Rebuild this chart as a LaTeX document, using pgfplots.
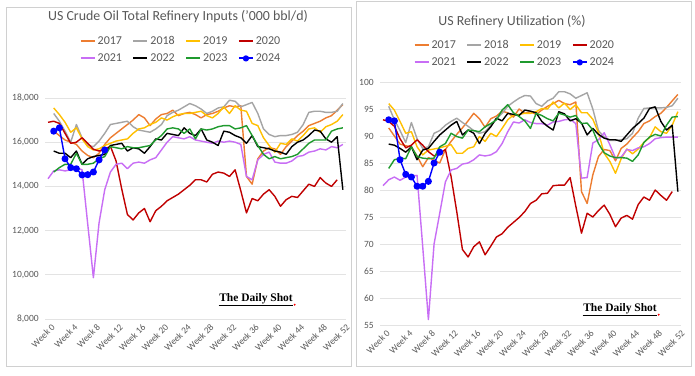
\documentclass[border=0pt]{standalone}
\usepackage{fontspec}
\setmainfont{Carlito}
\newfontfamily\dsfont{Liberation Serif}
\usepackage{pgfplots}
\usepackage{pgfplotstable}
\pgfplotsset{compat=1.18}
\definecolor{cA}{HTML}{ED7D31}
\definecolor{cB}{HTML}{A5A5A5}
\definecolor{cC}{HTML}{FFC000}
\definecolor{cD}{HTML}{C00000}
\definecolor{cE}{HTML}{C86EF5}
\definecolor{cF}{HTML}{000000}
\definecolor{cG}{HTML}{1F9A2E}
\definecolor{cH}{HTML}{0000FF}
\definecolor{txtgray}{HTML}{595959}
\definecolor{gridgray}{HTML}{E3E3E3}
\definecolor{framegray}{HTML}{D0D0D0}

\pgfplotstableread{
w a17 a18 a19 a20 a21 a22 a23 a24
0 nan nan nan 16900 14350 nan nan nan
1 16500 17300 17550 16950 14700 15600 14650 16500
2 16300 16950 17250 16850 14750 15500 14850 16650
3 16100 16500 16900 16400 14700 15500 15000 15250
4 16000 16000 16450 15950 14750 15300 15000 14850
5 15900 16800 16650 16000 14850 15600 15500 14800
6 15600 16200 16150 16200 14750 15000 15000 14520
7 15400 15850 15800 15950 12300 15250 15000 14530
8 15300 15800 15650 15680 9870 15350 15050 14650
9 15500 16050 15700 15600 12350 15400 15250 15200
10 15900 16400 15850 15680 13850 15450 15350 15650
11 16200 16800 15950 15820 14650 15850 15800 nan
12 16400 16850 16050 15150 15000 15900 15750 nan
13 16600 16900 16100 13880 15050 15950 15700 nan
14 16800 16950 16150 12730 14800 15600 15800 nan
15 17000 16700 16400 12480 15050 15750 15750 nan
16 17250 16550 16600 12800 15100 15700 15750 nan
17 17100 16500 16650 13000 15050 15500 15800 nan
18 16750 16450 16800 12400 15200 15800 15850 nan
19 17050 16600 16900 12900 15300 16150 16100 nan
20 17250 16800 17100 13100 15650 16100 16300 nan
21 17300 17200 17000 13350 16000 16400 16600 nan
22 17450 17350 17150 13500 16250 16350 16650 nan
23 17200 17450 17250 13650 16200 16300 16600 nan
24 17300 17600 17300 13850 16150 16650 16400 nan
25 17350 17750 17300 14050 16250 16400 16600 nan
26 17250 17650 17350 14300 16100 16300 16150 nan
27 17100 17500 17400 14300 16050 16600 16600 nan
28 17250 17300 17200 14200 16000 16100 16550 nan
29 17300 17400 17100 14550 15950 16000 16600 nan
30 17400 17550 17300 14650 16050 15850 16700 nan
31 17550 17600 17600 14600 16000 16500 16750 nan
32 17650 17900 17300 14450 16050 16450 16750 nan
33 17600 17850 17650 14750 16000 16300 16600 nan
34 17650 17600 17450 13800 15900 16200 16650 nan
35 14450 17700 17400 12800 14450 15950 16750 nan
36 14100 17800 16850 13450 14300 16300 16300 nan
37 15250 17300 16750 13350 15200 15800 15850 nan
38 15600 16600 16200 13650 15450 15750 15450 nan
39 15750 16350 15850 13850 15550 15700 15250 nan
40 15700 16250 15550 13550 15100 15600 15350 nan
41 15450 16300 15950 13100 15050 15550 15250 nan
42 15800 16300 15900 13400 15050 15450 15300 nan
43 16050 16350 16150 13550 15150 15800 15350 nan
44 16300 16450 16050 13500 15350 16000 15450 nan
45 16500 16800 16300 13800 15400 16100 15700 nan
46 16750 17350 16600 14100 15550 16300 15950 nan
47 16850 17400 16650 14000 15600 16550 16100 nan
48 16950 17400 16450 14400 15700 16500 16100 nan
49 17100 17350 16700 14150 15650 16150 16100 nan
50 17200 17350 16800 14000 15800 16000 16500 nan
51 17450 17400 16950 14300 15750 16250 16600 nan
52 17700 17750 17250 nan 15900 13850 16650 nan
}\inputs

\pgfplotstableread{
w u17 u18 u19 u20 u21 u22 u23 u24
0 nan nan nan 93.0 80.8 nan nan nan
1 91.5 95.5 96.0 92.7 81.9 88.5 84.0 93.0
2 90.0 93.0 94.8 91.8 82.4 88.3 85.6 92.8
3 88.5 91.0 92.7 89.5 81.8 87.7 85.9 85.6
4 88.2 88.8 90.5 87.8 82.4 87.0 85.8 82.9
5 88.0 92.5 90.8 88.3 82.6 88.0 88.0 82.4
6 86.3 89.5 88.0 89.3 82.7 85.6 86.2 80.7
7 84.3 87.7 86.5 88.3 69.5 87.4 85.9 80.7
8 86.0 88.0 87.4 87.1 56.0 87.7 85.8 81.6
9 85.5 90.5 87.6 86.3 70.0 89.0 85.9 85.0
10 85.0 91.0 87.8 86.8 75.7 90.2 88.0 87.0
11 87.5 92.0 88.1 87.5 81.5 91.1 88.6 nan
12 89.0 92.7 88.4 82.5 83.7 92.0 90.5 nan
13 90.3 93.3 86.8 76.0 84.0 92.7 89.9 nan
14 91.5 92.5 86.8 69.0 84.8 90.2 89.6 nan
15 92.8 91.8 87.7 67.6 85.0 91.1 91.1 nan
16 94.2 91.0 88.0 69.5 85.6 90.5 91.0 nan
17 93.2 90.5 89.9 70.4 86.5 88.6 90.8 nan
18 91.6 90.8 89.0 68.0 86.3 90.5 91.7 nan
19 93.2 92.0 90.5 69.6 86.5 91.7 92.3 nan
20 93.7 93.2 89.9 71.3 87.1 93.3 93.0 nan
21 94.6 94.2 91.4 71.9 88.6 92.8 94.8 nan
22 94.3 95.5 93.0 73.1 90.8 94.2 95.8 nan
23 93.5 96.3 93.9 74.0 92.6 94.0 94.3 nan
24 95.0 97.0 94.0 74.9 92.4 93.8 93.6 nan
25 94.2 97.5 94.2 76.0 93.0 94.8 92.8 nan
26 94.5 97.4 94.2 77.5 92.5 94.6 91.4 nan
27 94.0 96.0 94.5 78.1 92.3 94.3 94.2 nan
28 94.8 95.5 95.1 79.3 92.3 92.7 93.8 nan
29 95.5 96.5 95.0 79.4 92.0 91.8 93.2 nan
30 96.0 97.0 96.3 80.8 92.6 91.1 92.8 nan
31 96.6 98.2 95.2 80.9 92.7 94.5 94.2 nan
32 96.0 98.2 96.1 80.9 93.0 94.1 93.9 nan
33 95.8 97.8 94.9 82.3 93.1 92.8 93.5 nan
34 96.3 97.0 95.8 77.0 92.3 93.2 93.8 nan
35 79.7 97.5 94.3 72.0 82.2 92.4 92.3 nan
36 77.5 98.0 94.3 75.7 82.3 90.2 92.4 nan
37 82.8 95.0 93.1 75.0 88.7 91.4 91.1 nan
38 86.2 91.0 90.6 76.2 89.3 90.3 88.6 nan
39 87.5 89.8 86.8 77.2 90.6 89.6 86.9 nan
40 87.3 89.2 85.3 75.5 88.4 89.3 86.3 nan
41 85.4 89.2 83.1 73.2 85.9 89.3 86.0 nan
42 87.7 89.3 85.8 74.8 86.1 89.0 86.0 nan
43 88.5 89.5 87.6 75.3 87.5 90.2 85.9 nan
44 89.7 90.5 86.7 74.6 87.3 91.4 85.3 nan
45 90.8 93.3 87.6 77.3 87.8 92.3 86.5 nan
46 92.3 95.1 88.8 78.7 88.0 93.3 88.8 nan
47 92.8 95.2 89.7 78.1 88.6 95.1 89.8 nan
48 93.6 95.2 91.7 80.0 89.5 95.4 90.3 nan
49 94.2 95.2 90.8 79.0 89.7 92.7 90.0 nan
50 95.3 95.3 90.5 78.1 89.8 91.1 92.0 nan
51 96.5 95.6 92.0 79.7 89.8 92.0 93.5 nan
52 97.7 97.0 94.5 nan 89.8 79.7 93.6 nan
}\util

\pgfplotsset{
 panel/.style={
  scale only axis, width=300.5pt,
  xmin=-0.5, xmax=52.5,
  axis line style={draw=none},
  major tick length=0pt,
  ymajorgrids, grid style={gridgray, line width=0.7pt},
  xtick={0,4,...,52},
  xticklabels={Week 0,Week 4,Week 8,Week 12,Week 16,Week 20,Week 24,Week 28,Week 32,Week 36,Week 40,Week 44,Week 48,Week 52},
  x tick label style={rotate=45, anchor=north east, font=\fontsize{9.3}{11}\selectfont, text=txtgray, inner sep=1pt, yshift=-4pt},
  y tick label style={font=\fontsize{9.5}{11}\selectfont, text=txtgray, xshift=-3pt},
  /pgf/number format/assume math mode=true,
  /pgf/number format/1000 sep={,},
  scaled y ticks=false,
  legend columns=4,
  legend cell align=left,
  legend style={draw=none, fill=none, font=\fontsize{12}{14}\selectfont, text=txtgray, anchor=center, inner sep=0pt, row sep=4pt, /tikz/every even column/.append style={column sep=8.5pt}},
 },
 ser/.style={line width=1.4pt, line join=round},
 lg/.style={legend image code/.code={\draw[line width=1.9pt, color=#1] (0pt,0pt) -- (14pt,0pt);}},
 dotleg/.style={legend image code/.code={\draw[line width=1.9pt, color=cH] (0pt,0pt) -- (14pt,0pt); \fill[cH] (7pt,0pt) circle (2.4pt);}},
}

\begin{document}
\begin{tikzpicture}
\fill[white] (0pt,0pt) rectangle (695pt,375pt);
\useasboundingbox (0pt,0pt) rectangle (695pt,375pt);
\draw[framegray, line width=0.8pt] (6pt,9pt) rectangle (351pt,368pt);
\draw[framegray, line width=0.8pt] (356pt,9pt) rectangle (691pt,374pt);

\begin{axis}[panel, at={(45.2pt,56pt)}, anchor=south west, height=221pt,
  ymin=8000, ymax=18000, ytick={8000,10000,...,18000},
  legend style={at={(0.452,1.219)}}]
\addplot[ser, color=cA, lg=cA] table[x=w,y=a17] {\inputs}; \addlegendentry{2017}
\addplot[ser, color=cB, lg=cB] table[x=w,y=a18] {\inputs}; \addlegendentry{2018}
\addplot[ser, color=cC, lg=cC] table[x=w,y=a19] {\inputs}; \addlegendentry{2019}
\addplot[ser, color=cD, lg=cD] table[x=w,y=a20] {\inputs}; \addlegendentry{2020}
\addplot[ser, color=cE, lg=cE] table[x=w,y=a21] {\inputs}; \addlegendentry{2021}
\addplot[ser, color=cF, lg=cF] table[x=w,y=a22] {\inputs}; \addlegendentry{2022}
\addplot[ser, color=cG, lg=cG] table[x=w,y=a23] {\inputs}; \addlegendentry{2023}
\addplot[ser, color=cH, mark=*, mark size=2.8pt, dotleg] table[x=w,y=a24] {\inputs}; \addlegendentry{2024}
\end{axis}

\begin{axis}[panel, at={(380.2pt,50pt)}, anchor=south west, height=243pt,
  ymin=55, ymax=100, ytick={55,60,...,100},
  legend style={at={(0.448,1.117)}}]
\addplot[ser, color=cA, lg=cA] table[x=w,y=u17] {\util}; \addlegendentry{2017}
\addplot[ser, color=cB, lg=cB] table[x=w,y=u18] {\util}; \addlegendentry{2018}
\addplot[ser, color=cC, lg=cC] table[x=w,y=u19] {\util}; \addlegendentry{2019}
\addplot[ser, color=cD, lg=cD] table[x=w,y=u20] {\util}; \addlegendentry{2020}
\addplot[ser, color=cE, lg=cE] table[x=w,y=u21] {\util}; \addlegendentry{2021}
\addplot[ser, color=cF, lg=cF] table[x=w,y=u22] {\util}; \addlegendentry{2022}
\addplot[ser, color=cG, lg=cG] table[x=w,y=u23] {\util}; \addlegendentry{2023}
\addplot[ser, color=cH, mark=*, mark size=2.8pt, dotleg] table[x=w,y=u24] {\util}; \addlegendentry{2024}
\end{axis}

\node[font=\fontsize{13.9}{16}\selectfont, text=txtgray] at (178pt,358pt) {US Crude Oil Total Refinery Inputs ('000 bbl/d)};
\node[font=\fontsize{13.9}{16}\selectfont, text=txtgray] at (512pt,353pt) {US Refinery Utilization (\%)};

\node[font=\dsfont\bfseries\fontsize{11.5}{12}\selectfont, inner sep=0.5pt] (dsA) at (256pt,76pt) {The Daily Shot};
\draw[line width=0.6pt] (dsA.south west) -- (dsA.south east);
\fill[red] ([xshift=1.2pt,yshift=0.2pt]dsA.south east) circle (1.1pt);
\node[font=\dsfont\bfseries\fontsize{11.5}{12}\selectfont, inner sep=0.5pt] (dsB) at (620pt,66pt) {The Daily Shot};
\draw[line width=0.6pt] (dsB.south west) -- (dsB.south east);
\fill[red] ([xshift=1.2pt,yshift=0.2pt]dsB.south east) circle (1.1pt);
\end{tikzpicture}
\end{document}
